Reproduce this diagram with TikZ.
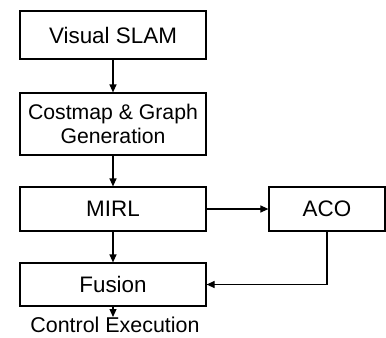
\documentclass[tikz,border=0pt]{standalone}
\usepackage{fontspec}
\setmainfont{Liberation Sans}
\usetikzlibrary{arrows.meta}
\begin{document}
\begin{tikzpicture}[x=1bp,y=-1bp,
  blk/.style={draw,line width=1.2bp,minimum width=186bp,inner sep=0pt,align=center,font=\fontsize{22.5}{24}\selectfont},
  arr/.style={line width=1.2bp,-{Triangle[length=8bp,width=7bp]}}]
\useasboundingbox (0,0) rectangle (386,338);
\node[blk,minimum height=48bp] (slam) at (113,35) {Visual SLAM};
\node[blk,minimum height=62bp,font=\fontsize{21.3}{24}\selectfont] (cost) at (113,124) {Costmap \& Graph\\Generation};
\node[blk,minimum height=44bp] (mirl) at (113,209) {MIRL};
\node[blk,minimum height=44bp,minimum width=116bp] (aco) at (327,209) {ACO};
\node[blk,minimum height=43bp] (fus) at (113,284.5) {Fusion};
\node[font=\fontsize{21.5}{24}\selectfont,inner sep=0pt,anchor=base] (ctrl) at (115,332) {Control Execution};
\coordinate (ctrlin) at (113,317);
\draw[arr] (slam) -- (cost);
\draw[arr] (cost) -- (mirl);
\draw[arr] (mirl) -- (fus);
\draw[arr] (mirl) -- (aco);
\draw[arr] (aco.south) |- (fus.east);
\draw[arr] (fus.south) -- (ctrlin);
\end{tikzpicture}
\end{document}
